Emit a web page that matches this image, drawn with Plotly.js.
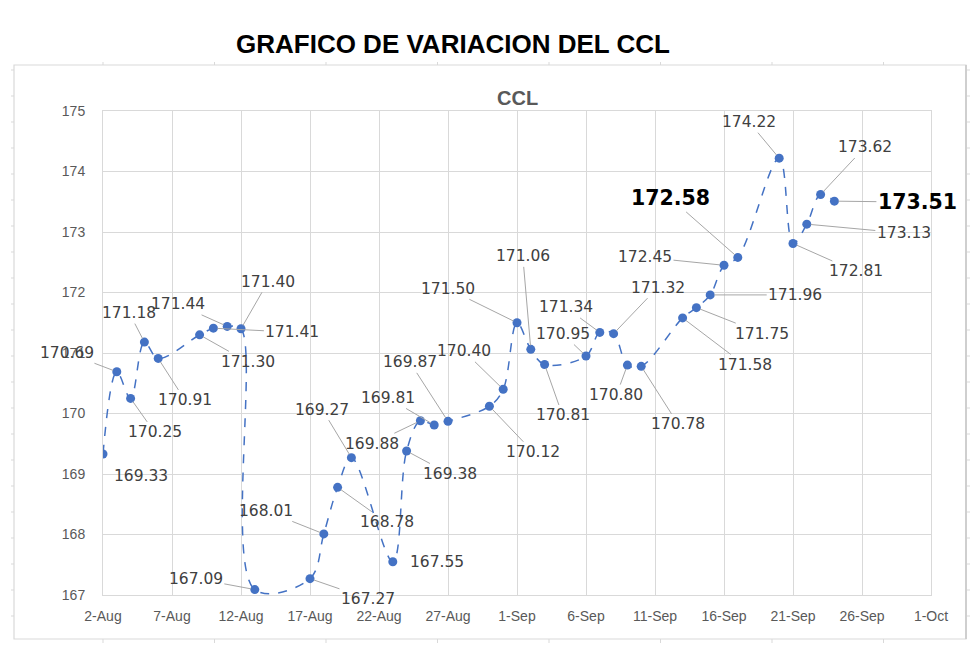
<!DOCTYPE html>
<html>
<head>
<meta charset="utf-8">
<script src="https://cdn.plot.ly/plotly-3.0.1.min.js"></script>
<style>
  html, body { margin: 0; padding: 0; background: #ffffff; }
  #chart { width: 980px; height: 651px; }
</style>
</head>
<body>
<div id="chart"></div>
<script>
// ---- Data ----
const dates = [
  '2021-08-02','2021-08-03','2021-08-04','2021-08-05','2021-08-06',
  '2021-08-09','2021-08-10','2021-08-11','2021-08-12','2021-08-13',
  '2021-08-17','2021-08-18','2021-08-19','2021-08-20',
  '2021-08-23','2021-08-24','2021-08-25','2021-08-26','2021-08-27',
  '2021-08-30','2021-08-31','2021-09-01','2021-09-02','2021-09-03',
  '2021-09-06','2021-09-07','2021-09-08','2021-09-09','2021-09-10',
  '2021-09-13','2021-09-14','2021-09-15','2021-09-16','2021-09-17',
  '2021-09-20','2021-09-21','2021-09-22','2021-09-23','2021-09-24'
];
const ccl = [
  169.33, 170.69, 170.25, 171.18, 170.91,
  171.30, 171.41, 171.44, 171.40, 167.09,
  167.27, 168.01, 168.78, 169.27,
  167.55, 169.38, 169.88, 169.81, 169.87,
  170.12, 170.40, 171.50, 171.06, 170.81,
  170.95, 171.34, 171.32, 170.80, 170.78,
  171.58, 171.75, 171.96, 172.45, 172.58,
  174.22, 172.81, 173.13, 173.62, 173.51
];
const mainTitle = 'GRAFICO DE VARIACION DEL CCL';
const seriesName = 'CCL';
const yTicks = [167, 168, 169, 170, 171, 172, 173, 174, 175];
const xStart = '2021-08-02';
const xEnd = '2021-10-01';
const boldLabels = ['2021-09-17', '2021-09-24'];   // highlighted data labels
const noLeader = ['2021-08-02', '2021-08-23'];     // labels drawn without a leader line

// ---- Label placement (pixel offsets from point, layout only) ----
const labelOffsets = [
  [38,22],[-50,-19],[24,34],[-15,-29],[27,42],
  [48,27],[79,4],[-49,-22],[27,-47],[-59,-11],
  [58,20],[-58,-23],[49,35],[-29,-48],
  [44,0],[43,23],[-48,23],[-46,-27],[-38,-59],
  [44,46],[-39,-38],[-69,-34],[-8,-93],[18,51],
  [-23,-22],[-34,-25],[44,-46],[-11,30],[37,58],
  [62,47],[66,26],[85,0],[-79,-8],[-67,-59],
  [-30,-36],[63,28],[97,9],[44,-47],[83,1]
];

const blue = '#4472C4';
const grid = '#d9d9d9';

const trace = {
  x: dates, y: ccl, type: 'scatter', mode: 'lines+markers', name: seriesName,
  line: { color: blue, width: 1.5, dash: 'dash', shape: 'spline', smoothing: 1 },
  marker: { color: blue, size: 9 },
  hoverinfo: 'skip'
};

const annotations = dates.map((d, i) => {
  const bold = boldLabels.includes(d);
  const hide = noLeader.includes(d);
  return {
    x: d, y: ccl[i], xref: 'x', yref: 'y',
    text: bold ? '<b>' + ccl[i].toFixed(2) + '</b>' : ccl[i].toFixed(2),
    showarrow: true, arrowhead: 0, arrowwidth: 1,
    arrowcolor: hide ? 'rgba(0,0,0,0)' : '#a6a6a6',
    standoff: 4,
    ax: labelOffsets[i][0], ay: labelOffsets[i][1],
    font: { family: 'DejaVu Sans, sans-serif', size: bold ? 20.5 : 15.5, color: bold ? '#000000' : '#404040' }
  };
});

// Plot area geometry in px (for converting decoration positions to paper coords)
const L = 103, R = 931, T = 111, B = 595;
const px = v => (v - L) / (R - L);
const py = v => (B - v) / (B - T);

annotations.push({
  xref: 'paper', yref: 'paper', x: px(453), y: py(44), xanchor: 'center', yanchor: 'middle',
  text: '<b>' + mainTitle + '</b>', showarrow: false,
  font: { family: 'Liberation Sans, Arial, sans-serif', size: 26, color: '#000000' }
});
annotations.push({
  xref: 'paper', yref: 'paper', x: px(517), y: py(98), xanchor: 'center', yanchor: 'middle',
  text: '<b>' + seriesName + '</b>', showarrow: false,
  font: { family: 'Liberation Sans, Arial, sans-serif', size: 20, color: '#595959' }
});

// Outer chart-area frame and small spreadsheet cell marks around it
const shapes = [{
  type: 'rect', xref: 'paper', yref: 'paper',
  x0: px(14), x1: px(966), y0: py(639), y1: py(65),
  line: { color: grid, width: 1.2 }, layer: 'below'
}, {
  type: 'line', xref: 'paper', yref: 'paper',
  x0: px(966), x1: px(966), y0: py(639), y1: py(65),
  line: { color: '#cfcfcf', width: 2 }
}];
const addLine = (x0, y0, x1, y1) => shapes.push({
  type: 'line', xref: 'paper', yref: 'paper',
  x0: px(x0), y0: py(y0), x1: px(x1), y1: py(y1),
  line: { color: grid, width: 1 }
});
for (let x = 103; x < 966; x += 111.5) { addLine(x, 62, x, 65); addLine(x, 639, x, 643); }
for (let y = 70; y < 639; y += 26) { addLine(11, y, 14, y); addLine(967, y, 970, y); }

const layout = {
  width: 980, height: 651,
  margin: { l: L, r: 980 - R, t: T, b: 651 - B, pad: 0 },
  paper_bgcolor: '#ffffff', plot_bgcolor: '#ffffff',
  showlegend: false,
  hovermode: false,
  xaxis: {
    type: 'date', range: [xStart, xEnd],
    tick0: xStart, dtick: 5 * 86400000, tickformat: '%-d-%b',
    showgrid: true, gridcolor: grid, gridwidth: 1,
    showline: true, linecolor: grid, linewidth: 1, mirror: true,
    zeroline: false, ticks: '', ticklabelstandoff: 8,
    tickfont: { family: 'Liberation Sans, Arial, sans-serif', size: 14, color: '#595959' },
    fixedrange: true
  },
  yaxis: {
    range: [167, 175], tickvals: yTicks, ticktext: yTicks.map(String),
    showgrid: true, gridcolor: grid, gridwidth: 1,
    showline: true, linecolor: grid, linewidth: 1, mirror: true,
    zeroline: false, ticks: '', ticklabelstandoff: 14,
    tickfont: { family: 'Liberation Sans, Arial, sans-serif', size: 14, color: '#595959' },
    fixedrange: true
  },
  annotations: annotations,
  shapes: shapes
};

Plotly.newPlot('chart', [trace], layout, { displayModeBar: false, staticPlot: true });
</script>
</body>
</html>
